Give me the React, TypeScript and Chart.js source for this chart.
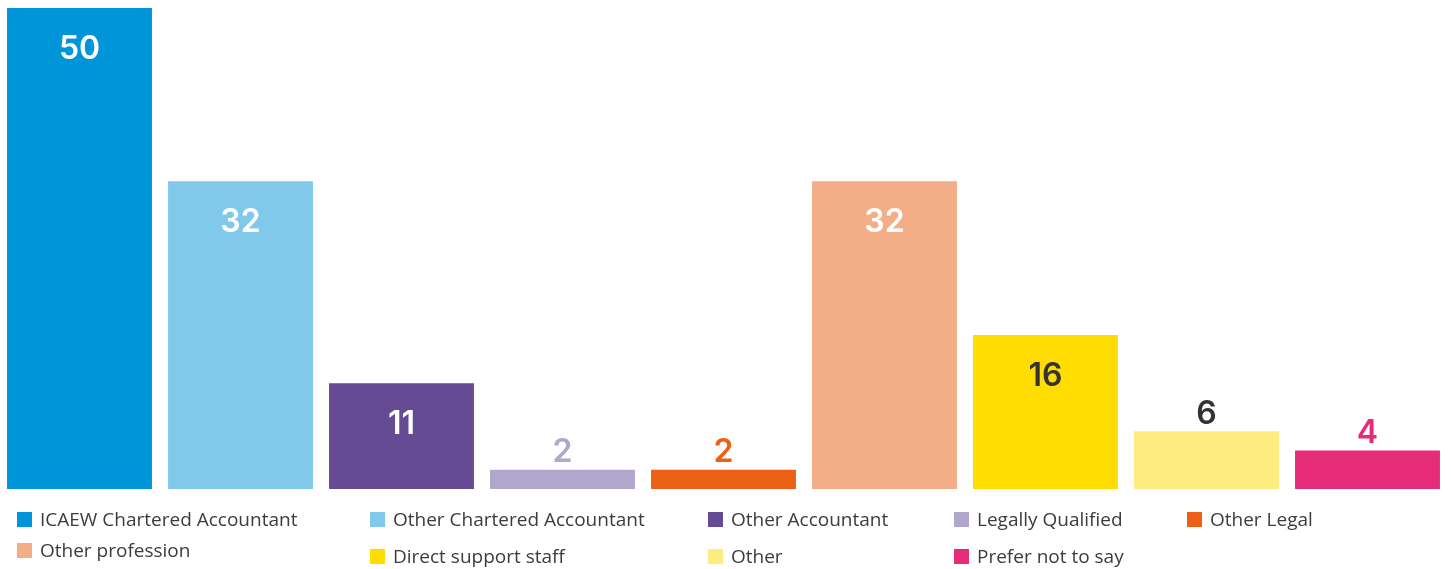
import React, { useEffect, useRef } from "react";
import { Chart, registerables } from "chart.js";

Chart.register(...registerables);

const categories = [
  "ICAEW Chartered Accountant",
  "Other Chartered Accountant",
  "Other Accountant",
  "Legally Qualified",
  "Other Legal",
  "Other profession",
  "Direct support staff",
  "Other",
  "Prefer not to say",
];
const values = [50, 32, 11, 2, 2, 32, 16, 6, 4];
const barColors = [
  "#0095d9",
  "#80c9ea",
  "#654b94",
  "#b1a6cb",
  "#ec6016",
  "#f3ae87",
  "#ffdd00",
  "#feec80",
  "#e62c78",
];
const labelColors = [
  "#ffffff",
  "#ffffff",
  "#ffffff",
  "#b1a6cb",
  "#ec6016",
  "#ffffff",
  "#333333",
  "#333333",
  "#e62c78",
];

// legend placement (left x of swatch, vertical centre y)
const legendPos: [number, number][] = [
  [17, 519],
  [370, 519],
  [708, 519],
  [954, 519],
  [1187, 519],
  [17, 550],
  [370, 556],
  [708, 556],
  [954, 556],
];

const valueLabelPlugin = {
  id: "valueLabels",
  afterDatasetsDraw(chart: any) {
    const ctx = chart.ctx;
    const meta = chart.getDatasetMeta(0);
    ctx.save();
    ctx.font = "600 32px Inter, 'Open Sans', sans-serif";
    ctx.textAlign = "center";
    ctx.textBaseline = "middle";
    meta.data.forEach((bar: any, i: number) => {
      const v = values[i];
      const inside = v >= 10;
      const y = inside ? bar.y + 41 : bar.y - 17;
      ctx.fillStyle = labelColors[i];
      ctx.fillText(String(v), bar.x, y);
    });
    ctx.restore();
  },
};

export default function App() {
  const canvasRef = useRef<HTMLCanvasElement | null>(null);

  useEffect(() => {
    if (!canvasRef.current) return;
    const chart = new Chart(canvasRef.current, {
      type: "bar",
      data: {
        labels: categories,
        datasets: [
          {
            data: values,
            backgroundColor: barColors,
            borderWidth: 0,
            barPercentage: 0.9,
            categoryPercentage: 1,
          },
        ],
      },
      options: {
        animation: false,
        responsive: false,
        maintainAspectRatio: false,
        layout: { padding: { left: 0, right: 2, top: 8, bottom: 80 } },
        plugins: { legend: { display: false }, tooltip: { enabled: false } },
        scales: {
          x: { display: false, grid: { display: false } },
          y: { display: false, min: 0, max: 50, grid: { display: false } },
        },
      },
      plugins: [valueLabelPlugin],
    });
    return () => chart.destroy();
  }, []);

  return (
    <div
      style={{
        position: "absolute",
        left: 0,
        top: 0,
        width: 1451,
        height: 569,
        background: "#ffffff",
        overflow: "hidden",
      }}
    >
      <canvas
        ref={canvasRef}
        width={1451}
        height={569}
        style={{ position: "absolute", left: -1, top: 0, width: 1451, height: 569 }}
      />
      {categories.map((c, i) => (
        <div
          key={c}
          style={{
            position: "absolute",
            left: legendPos[i][0],
            top: legendPos[i][1] - 12,
            height: 24,
            display: "flex",
            alignItems: "center",
            whiteSpace: "nowrap",
            fontFamily: "'Open Sans', sans-serif",
            fontSize: 19,
            color: "#3c3c3c",
          }}
        >
          <span
            style={{
              display: "inline-block",
              width: 15,
              height: 15,
              background: barColors[i],
              marginRight: 8,
            }}
          />
          <span>{c}</span>
        </div>
      ))}
    </div>
  );
}
